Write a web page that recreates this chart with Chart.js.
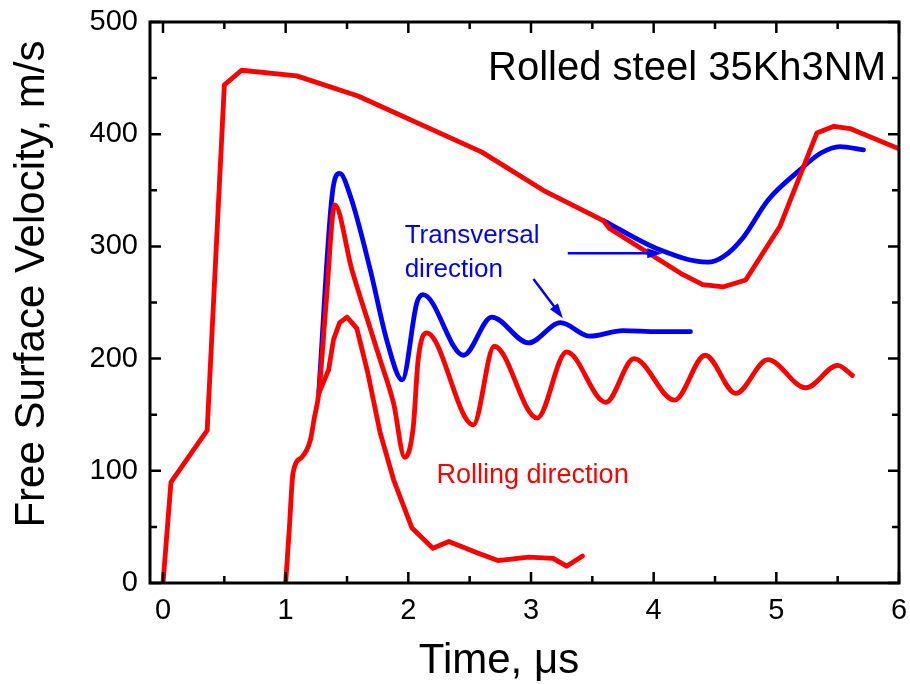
<!DOCTYPE html>
<html>
<head>
<meta charset="utf-8">
<title>Free Surface Velocity</title>
<script src="https://cdn.jsdelivr.net/npm/chart.js@4.4.1/dist/chart.umd.min.js"></script>
<style>
  html, body { margin: 0; padding: 0; background: #fff; }
  #velocityChart { display: block; }
</style>
</head>
<body>
<canvas id="velocityChart" width="910" height="684"></canvas>
<script>
// plate shot, reference trace
const plateTime = [0, 0.065, 0.36, 0.50, 0.64, 1.09, 1.59, 2.60, 3.10, 3.59, 3.64, 4.22, 4.40, 4.57, 4.75, 5.03, 5.33, 5.47, 5.60, 6.0];
const plateVelocity = [0, 90, 136, 444, 457, 452, 434, 384, 350, 323, 316, 276, 266, 264, 270, 318, 401, 407, 405, 387];

// rolling direction, ringing trace
const rollingTime = [1.00, 1.03, 1.06, 1.13, 1.20, 1.235, 1.27, 1.33, 1.40, 1.54, 1.66, 1.77, 1.88, 1.97, 2.04, 2.08, 2.15, 2.53, 2.70, 3.05, 3.29, 3.61, 3.84, 4.17, 4.42, 4.67, 4.93, 5.24, 5.50, 5.62];
const rollingVelocity = [0, 49, 98, 112, 127, 148, 169, 250, 337, 279, 237, 199, 160, 112, 139, 199, 223, 141, 211, 147, 206, 161, 200, 163, 203, 169, 199, 174, 194, 185];

// rolling direction, spalled trace
const spallTime = [1.27, 1.35, 1.39, 1.44, 1.50, 1.58, 1.67, 1.77, 1.88, 2.03, 2.20, 2.33, 2.56, 2.73, 2.98, 3.18, 3.29, 3.42];
const spallVelocity = [169, 190, 217, 232, 237, 227, 187, 134, 92, 49, 31, 37, 27, 20, 23, 22, 15, 24];

// transversal direction
const transTime = [1.27, 1.38, 1.44, 1.53, 1.69, 1.83, 1.95, 2.07, 2.12, 2.45, 2.68, 2.98, 3.24, 3.48, 3.75, 4.03, 4.30];
const transVelocity = [170, 347, 365, 344, 279, 214, 181, 250, 257, 203, 237, 214, 232, 220, 225, 224, 224];

const transPlateTime = [3.59, 4.05, 4.44, 4.57, 4.73, 4.93, 5.19, 5.36, 5.52, 5.71];
const transPlateVelocity = [323, 297, 286, 291, 308, 341, 368, 383, 389, 386];

const xTicks = [0, 1, 2, 3, 4, 5, 6];
const xMinorTicks = [0.5, 1.5, 2.5, 3.5, 4.5, 5.5];
const yTicks = [0, 100, 200, 300, 400, 500];
const yMinorTicks = [50, 150, 250, 350, 450];

// arrows pointing at the transversal traces: [x1, y1, x2, y2]
const arrows = [
  [3.30, 294, 4.07, 294],
  [3.02, 271, 3.26, 236]
];

const RED = "#ff0000";
const BLUE = "#0000ff";
const FONT = "'Liberation Sans', Arial, Helvetica, sans-serif";

const toPoints = (xs, ys) => xs.map((x, i) => ({ x: x, y: ys[i] }));

const lineSet = (xs, ys, color, smooth) => ({
  data: toPoints(xs, ys),
  borderColor: color,
  borderWidth: 4.8,
  pointRadius: 0,
  fill: false,
  tension: 0,
  cubicInterpolationMode: smooth ? "monotone" : "default",
  borderJoinStyle: "round",
  borderCapStyle: "round"
});

const drawArrow = (ctx, x1, y1, x2, y2) => {
  const ang = Math.atan2(y2 - y1, x2 - x1);
  const len = 15, half = 5;
  ctx.beginPath();
  ctx.moveTo(x1, y1);
  ctx.lineTo(x2 - Math.cos(ang) * len * 0.8, y2 - Math.sin(ang) * len * 0.8);
  ctx.stroke();
  ctx.beginPath();
  ctx.moveTo(x2, y2);
  ctx.lineTo(x2 - Math.cos(ang) * len - Math.sin(ang) * half, y2 - Math.sin(ang) * len + Math.cos(ang) * half);
  ctx.lineTo(x2 - Math.cos(ang) * len + Math.sin(ang) * half, y2 - Math.sin(ang) * len - Math.cos(ang) * half);
  ctx.closePath();
  ctx.fill();
};

// keep label overhang from pushing the plot area around
const noScalePadding = (scale) => {
  scale.paddingTop = 0;
  scale.paddingBottom = 0;
  scale.paddingLeft = 0;
  scale.paddingRight = 0;
};

// frame, inward ticks, titles and annotations
const framePlugin = {
  id: "frame",
  afterDatasetsDraw(chart) {
    const ctx = chart.ctx;
    const area = chart.chartArea;
    const xs = chart.scales.x;
    const ys = chart.scales.y;
    ctx.save();

    ctx.strokeStyle = "#000";
    ctx.lineWidth = 3;
    ctx.strokeRect(area.left, area.top, area.right - area.left, area.bottom - area.top);

    const tick = (vals, len, isX) => {
      vals.forEach((v) => {
        ctx.beginPath();
        if (isX) {
          const px = xs.getPixelForValue(v);
          ctx.moveTo(px, area.bottom); ctx.lineTo(px, area.bottom - len);
          ctx.moveTo(px, area.top); ctx.lineTo(px, area.top + len);
        } else {
          const py = ys.getPixelForValue(v);
          ctx.moveTo(area.left, py); ctx.lineTo(area.left + len, py);
          ctx.moveTo(area.right, py); ctx.lineTo(area.right - len, py);
        }
        ctx.stroke();
      });
    };
    ctx.lineWidth = 2.5;
    tick(xTicks, 11, true);
    tick(xMinorTicks, 7, true);
    tick(yTicks, 11, false);
    tick(yMinorTicks, 7, false);

    // axis titles
    ctx.fillStyle = "#000";
    ctx.font = "42px " + FONT;
    ctx.textAlign = "center";
    ctx.textBaseline = "alphabetic";
    ctx.fillText("Time, \u03bcs", 499, 673);
    ctx.save();
    ctx.translate(44, 284);
    ctx.rotate(-Math.PI / 2);
    ctx.fillText("Free Surface Velocity, m/s", 0, 0);
    ctx.restore();

    // annotations
    ctx.textAlign = "left";
    ctx.font = "40px " + FONT;
    ctx.fillText("Rolled steel 35Kh3NM", xs.getPixelForValue(2.65), ys.getPixelForValue(448));

    ctx.fillStyle = BLUE;
    ctx.font = "26px " + FONT;
    ctx.fillText("Transversal", xs.getPixelForValue(1.97), ys.getPixelForValue(303));
    ctx.fillText("direction", xs.getPixelForValue(1.97), ys.getPixelForValue(273));

    ctx.fillStyle = RED;
    ctx.font = "27px " + FONT;
    ctx.fillText("Rolling direction", xs.getPixelForValue(2.23), ys.getPixelForValue(89));

    ctx.strokeStyle = BLUE;
    ctx.fillStyle = BLUE;
    ctx.lineWidth = 2.5;
    arrows.forEach((a) => {
      drawArrow(ctx, xs.getPixelForValue(a[0]), ys.getPixelForValue(a[1]),
        xs.getPixelForValue(a[2]), ys.getPixelForValue(a[3]));
    });

    ctx.restore();
  }
};

const ctx = document.getElementById("velocityChart");
new Chart(ctx, {
  type: "line",
  data: {
    datasets: [
      lineSet(plateTime, plateVelocity, RED, false),
      lineSet(rollingTime, rollingVelocity, RED, true),
      lineSet(spallTime, spallVelocity, RED, false),
      lineSet(transTime, transVelocity, BLUE, true),
      lineSet(transPlateTime, transPlateVelocity, BLUE, true)
    ]
  },
  options: {
    responsive: false,
    animation: false,
    devicePixelRatio: 1,
    layout: { padding: { top: 22, right: 11, left: 0, bottom: 0 } },
    scales: {
      x: {
        type: "linear",
        min: -0.106,
        max: 6,
        afterBuildTicks: (scale) => { scale.ticks = xTicks.map((v) => ({ value: v })); },
        afterFit: (scale) => { scale.height = 101; noScalePadding(scale); },
        grid: { display: false, drawTicks: false },
        border: { display: false },
        ticks: { color: "#000", padding: 11, font: { family: FONT, size: 29 } }
      },
      y: {
        type: "linear",
        min: 0,
        max: 500,
        afterBuildTicks: (scale) => { scale.ticks = yTicks.map((v) => ({ value: v })); },
        afterFit: (scale) => { scale.width = 150; noScalePadding(scale); },
        grid: { display: false, drawTicks: false },
        border: { display: false },
        ticks: { color: "#000", padding: 12, font: { family: FONT, size: 29 } }
      }
    },
    plugins: {
      legend: { display: false },
      tooltip: { enabled: false }
    }
  },
  plugins: [framePlugin]
});
</script>
</body>
</html>
